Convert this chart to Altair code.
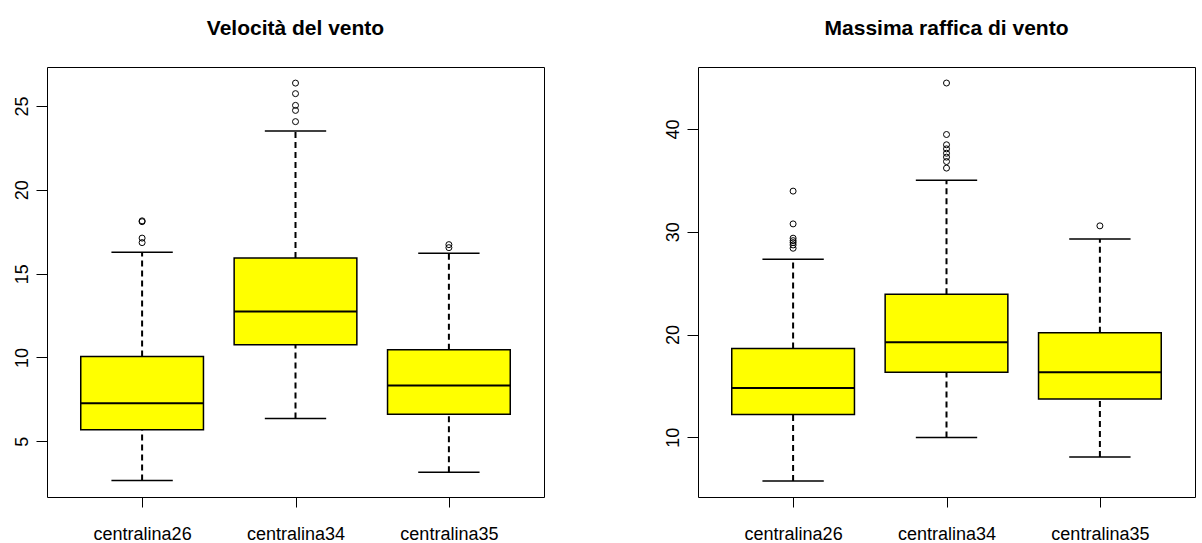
import altair as alt
import pandas as pd

FONT = "Liberation Sans"

stations = ["centralina26", "centralina34", "centralina35"]
positions = [1, 2, 3]

# Velocità del vento
vel_lower = [2.65, 6.35, 3.15]
vel_q1 = [5.68, 10.75, 6.61]
vel_med = [7.27, 12.74, 8.32]
vel_q3 = [10.06, 15.93, 10.45]
vel_upper = [16.28, 23.51, 16.22]
vel_out = [
    [16.85, 17.12, 18.10, 18.15],
    [24.07, 24.74, 25.04, 25.74, 26.37],
    [16.55, 16.73],
]
vel_domain = [1.67, 27.33]
vel_ticks = [5, 10, 15, 20, 25]

# Massima raffica di vento
raf_lower = [5.75, 9.97, 8.09]
raf_q1 = [12.22, 16.32, 13.74]
raf_med = [14.79, 19.24, 16.32]
raf_q3 = [18.65, 23.92, 20.18]
raf_upper = [27.33, 35.03, 29.31]
raf_out = [
    [28.40, 28.72, 28.95, 29.14, 29.38, 30.77, 33.96],
    [36.20, 36.84, 37.27, 37.65, 38.07, 38.47, 39.47, 44.48],
    [30.58],
]
raf_domain = [4.19, 46.04]
raf_ticks = [10, 20, 30, 40]

titles = ["Velocità del vento", "Massima raffica di vento"]

BOX_HALF = 0.4
CAP_HALF = 0.2
label_expr = "[" + ",".join("'%s'" % s for s in stations) + "][datum.value - 1]"


def panel(lower, q1, med, q3, upper, outs, title, ydom, yvals):
    s = pd.DataFrame(dict(station=stations, pos=positions, lower=lower, q1=q1,
                          med=med, q3=q3, upper=upper))
    o = pd.DataFrame([{"pos": p, "value": v} for p, vals in zip(positions, outs) for v in vals])
    xs = alt.Scale(domain=[0.38, 3.62], nice=False, zero=False)
    ys = alt.Scale(domain=ydom, nice=False, zero=False)
    xaxis = alt.Axis(values=positions, labelExpr=label_expr, title=None, grid=False,
                     domain=False, tickSize=10, tickColor="black", tickWidth=1,
                     labelFont=FONT, labelFontSize=18, labelColor="black",
                     labelPadding=32, labelBaseline="alphabetic", labelAngle=0)
    yaxis = alt.Axis(values=yvals, title=None, grid=False, domain=False, tickSize=11,
                     tickColor="black", tickWidth=1, labelAngle=270, labelAlign="center",
                     labelBaseline="alphabetic", labelPadding=9, labelFont=FONT,
                     labelFontSize=18, labelColor="black")

    def X(f):
        return alt.X(f, type="quantitative", scale=xs, axis=xaxis)

    def Y(f):
        return alt.Y(f, type="quantitative", scale=ys, axis=yaxis)

    base = alt.Chart(s).transform_calculate(
        bl="datum.pos - %f" % BOX_HALF, br="datum.pos + %f" % BOX_HALF,
        cl="datum.pos - %f" % CAP_HALF, cr="datum.pos + %f" % CAP_HALF)
    whisk_hi = base.mark_rule(color="black", strokeWidth=2, strokeDash=[6, 4]).encode(
        x=X("pos"), y=Y("q3"), y2="upper:Q")
    whisk_lo = base.mark_rule(color="black", strokeWidth=2, strokeDash=[6, 4]).encode(
        x=X("pos"), y=Y("lower"), y2="q1:Q")
    cap_hi = base.mark_rule(color="black", strokeWidth=1.5).encode(
        x=X("cl"), x2="cr:Q", y=Y("upper"))
    cap_lo = base.mark_rule(color="black", strokeWidth=1.5).encode(
        x=X("cl"), x2="cr:Q", y=Y("lower"))
    box = base.mark_rect(fill="#FFFF00", stroke="black", strokeWidth=1.5).encode(
        x=X("bl"), x2="br:Q", y=Y("q1"), y2="q3:Q")
    median = base.mark_rule(color="black", strokeWidth=2).encode(
        x=X("bl"), x2="br:Q", y=Y("med"))
    pts = alt.Chart(o).mark_point(shape="circle", filled=False, size=36, color="black",
                                  strokeWidth=1, opacity=1).encode(x=X("pos"), y=Y("value"))
    return alt.layer(whisk_hi, whisk_lo, cap_hi, cap_lo, box, median, pts).properties(
        width=497, height=430,
        title=alt.TitleParams(title, font=FONT, fontSize=21, fontWeight="bold",
                              color="black", anchor="middle", baseline="alphabetic",
                              offset=11))


left = panel(vel_lower, vel_q1, vel_med, vel_q3, vel_upper, vel_out, titles[0],
             vel_domain, vel_ticks)
right = panel(raf_lower, raf_q1, raf_med, raf_q3, raf_upper, raf_out, titles[1],
              raf_domain, raf_ticks)

chart = alt.hconcat(left, right, spacing=118).properties(
    padding={"left": 12, "top": 17, "right": 0, "bottom": 0},
    background="white",
).configure_view(stroke="black", strokeWidth=1)

chart.save("out.html", embed_options={"renderer": "svg", "actions": False})
